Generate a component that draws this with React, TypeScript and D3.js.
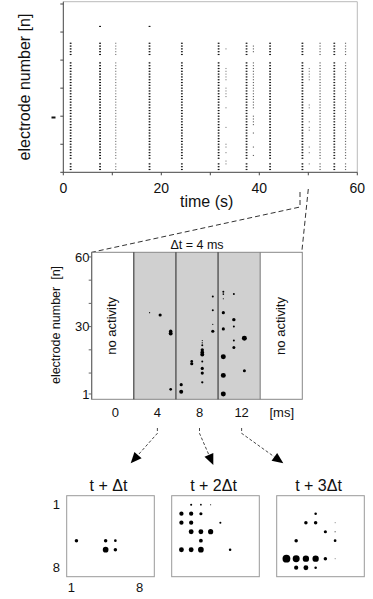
import React from 'react';
import * as d3 from 'd3';

const W = 373;
const H = 599;
const FONT = '"Liberation Sans", Arial, Helvetica, sans-serif';

// ---------- top raster (time in s, electrode number) ----------
const burstTimes = [1.5, 7.5, 10.7, 17.6, 24.2, 31.7, 33.2, 37.4, 38.8, 42.2, 48.8, 50.2, 52.4, 55.3, 57.6];
const burstElectrodes = [
  '1-3,5-39,42-46',
  '1-3,5-39,42-46,52',
  '1-3,5-39,42-46',
  '1-3,5-39,42-46,52',
  '1-3,5-39,42-46',
  '1-3,5-39,42-46',
  '3,4,7,9,10,16,23,27-30,33-37,44',
  '1-3,5-39,42-46',
  '6,9,14,17-20,23-39,43-45',
  '1-3,5-39,42-46',
  '1-3,5-39,42-46',
  '3,7,9,15,16,18,23,24,33-37',
  '1-3,5-39,42-46',
  '1-3,5-39,42-46',
  '1-3,5-39,42-46',
];
const burstStrength = [2, 2, 1, 2, 2, 2, 1, 2, 1, 2, 2, 1, 1, 2, 1];
const burstShade = [0.9, 0.9, 0.5, 0.9, 0.85, 0.9, 0.45, 0.85, 0.6, 0.85, 0.9, 0.45, 0.65, 0.8, 0.6];
const topXTicks = [0, 10, 20, 30, 40, 50, 60];
const topXLabels = [0, 20, 40, 60];
const topYTicks = [0, 10, 20, 30, 40, 50, 60];

// ---------- middle zoom (ms, electrode, activity) ----------
const binEdges = [2, 6, 10, 14];
const msLabels = ['0', '4', '8', '12'];
const msLabelValues = [0, 4, 8, 12];
const midYTicks = [1, 10, 20, 30, 40, 50, 60];
const midYLabels = [1, 30, 60];
const spikeMs = [
  3.5, 4.5, 5.5, 5.5, 5.5, 6.5, 6.5, 7.5, 7.5,
  8.5, 8.5, 8.5, 8.5, 8.5, 8.5, 8.5, 8.5, 8.5, 8.5,
  9.5, 9.5, 9.5, 9.5,
  10.5, 10.5, 10.5, 10.5, 10.5, 10.5, 10.5, 10.5,
  11.5, 11.5, 11.5, 11.5, 11.5,
  12.5, 12.5,
];
const spikeEl = [
  36, 35, 28, 27, 3, 5, 2, 15, 14,
  24, 23, 22, 20, 19, 18, 15, 12, 10, 6,
  43, 37, 31, 28,
  45, 44, 42, 36, 29, 17, 9, 1,
  44, 33, 30, 24, 21,
  25, 11,
];
const spikeSize = [
  0.4, 2.8, 3.2, 4.4, 2.0, 2.8, 4.4, 2.0, 2.8,
  0.4, 0.6, 1.1, 3.0, 3.6, 4.4, 1.1, 2.8, 2.8, 1.5,
  1.1, 1.1, 0.4, 2.8,
  1.1, 0.8, 0.4, 2.8, 2.8, 6.9, 6.9, 6.9,
  1.1, 3.2, 1.1, 1.1, 2.5,
  6.9, 2.5,
];

// ---------- bottom frames: [column, row, activity] ----------
const frameTitles = ['t + \u0394t', 't + 2\u0394t', 't + 3\u0394t'];
const frame1 = [[1, 5, 2], [4, 5, 2], [5, 5, 1.2], [4, 6, 5.3], [5, 6, 2]];
const frame2 = [
  [2, 1, 0.7], [3, 1, 0.5], [4, 1, 0.2],
  [1, 2, 3], [2, 2, 3], [3, 2, 1.6],
  [1, 3, 3], [2, 3, 3], [5, 3, 0.7],
  [2, 4, 3.9], [3, 4, 3.9], [4, 4, 4.5],
  [3, 5, 2.4],
  [1, 6, 3.9], [2, 6, 3.9], [3, 6, 5.3], [6, 6, 1.05],
];
const frame3 = [
  [4, 2, 1.05],
  [3, 3, 2], [4, 3, 2], [6, 3, 0.12],
  [5, 4, 1.6], [6, 4, 0.18],
  [2, 5, 2], [6, 5, 1.2],
  [1, 7, 10], [2, 7, 8], [3, 7, 6.6], [4, 7, 6.6], [5, 7, 2], [6, 7, 0.12],
  [2, 8, 2.9], [3, 8, 3.9], [4, 8, 1.05],
];
const frameAxisLabels = [1, 8];

function parseRanges(s: string): number[] {
  const out: number[] = [];
  s.split(',').forEach((part) => {
    const [a, b] = part.split('-').map(Number);
    if (b === undefined || isNaN(b)) out.push(a);
    else for (let i = a; i <= b; i++) out.push(i);
  });
  return out;
}

function Arrow({ x, tx, ty }: { x: number; tx: number; ty: number }) {
  const sx = x, sy = 433.3;
  const dx = tx - sx, dy = ty - sy;
  const len = Math.sqrt(dx * dx + dy * dy);
  const ux = dx / len, uy = dy / len;
  const L = 11, Wd = 4.8;
  const bx = tx - ux * L, by = ty - uy * L;
  const px = -uy, py = ux;
  return (
    <g>
      <path d={`M${sx},428 L${sx},${sy} L${bx},${by}`} fill="none" stroke="#333" strokeWidth={0.9} strokeDasharray="3,2" />
      <polygon points={`${tx},${ty} ${bx + px * Wd},${by + py * Wd} ${bx - px * Wd},${by - py * Wd}`} fill="#000" />
    </g>
  );
}

export default function App() {
  const xTop = d3.scaleLinear().domain([0, 60]).range([63.3, 357.3]);
  const yTop = d3.scaleLinear().domain([0, 60]).range([172.3, 4]);
  const topL = 63.3, topR = 357.3, topT = 1.7, topB = 172.3;

  const rasterDots: JSX.Element[] = [];
  burstTimes.forEach((t, bi) => {
    const els = parseRanges(burstElectrodes[bi]);
    const n = burstStrength[bi];
    for (let k = 0; k < n; k++) {
      const off = (k - (n - 1) / 2) * 0.14;
      els.forEach((e) => {
        rasterDots.push(
          <rect key={`${bi}-${k}-${e}`} x={xTop(t + off) - 0.6} y={yTop(e) - 0.55} width={1.2} height={1.1} fill="#000" opacity={burstShade[bi]} />
        );
      });
    }
  });

  const msX = d3.scaleLinear().domain([-2, 18]).range([91.7, 302.3]);
  const elY = d3.scaleLinear().domain([-1.3, 62]).range([399.3, 252.3]);
  const midR = d3.scaleSqrt().domain([0, 10]).range([0, 3.0]);
  const midL = msX(-2), midRgt = msX(18), midT = elY(62), midB = elY(-1.3);

  const frameX0 = [66.7, 171.7, 276.7];
  const frameW = 87.6, frameTop = 495.7, frameH = 81;
  const frameR = d3.scaleSqrt().domain([0, 10]).range([0, 3.9]);
  const frames = [frame1, frame2, frame3];
  const arrowTips = [[130.7, 463.3], [213.3, 465], [283.3, 463.3]];

  return (
    <svg width={W} height={H} style={{ position: 'absolute', left: 0, top: 0, background: '#fff' }} fontFamily={FONT}>
      <rect x={0} y={0} width={W} height={H} fill="#fff" />
      {/* ---------- top raster ---------- */}
      <line x1={topL} y1={topT} x2={topR} y2={topT} stroke="#bbb" strokeWidth={1} />
      <line x1={topR} y1={topT} x2={topR} y2={topB} stroke="#bbb" strokeWidth={1} />
      <line x1={topL} y1={topT} x2={topL} y2={topB} stroke="#444" strokeWidth={1} />
      <line x1={topL} y1={topB} x2={topR} y2={topB} stroke="#444" strokeWidth={1} />
      {topYTicks.map((v) => (
        <line key={`yt${v}`} x1={topL - 3} x2={topL} y1={yTop(v)} y2={yTop(v)} stroke="#444" strokeWidth={1} />
      ))}
      {topXTicks.map((v) => (
        <line key={`xt${v}`} x1={xTop(v)} x2={xTop(v)} y1={topB} y2={topB + 3} stroke="#444" strokeWidth={1} />
      ))}
      {topXLabels.map((v) => (
        <text key={`xl${v}`} x={xTop(v)} y={192.5} fontSize={14} textAnchor="middle" fill="#111">{v}</text>
      ))}
      <line x1={51.5} x2={55.5} y1={117.5} y2={117.5} stroke="#111" strokeWidth={2} />
      <text x={206.7} y={207} fontSize={16} textAnchor="middle" fill="#111">time (s)</text>
      <text transform={`translate(30,87) rotate(-90)`} fontSize={16} textAnchor="middle" fill="#111">electrode number [n]</text>
      <g>{rasterDots}</g>

      {/* zoom lines */}
      <path d="M300,192 L300,207 L91.7,252.3" fill="none" stroke="#333" strokeWidth={1} strokeDasharray="5,3" />
      <path d="M308.3,189 L301.7,253" fill="none" stroke="#333" strokeWidth={1} strokeDasharray="5,3" />

      {/* ---------- middle panel ---------- */}
      <rect x={msX(binEdges[0])} y={midT} width={msX(binEdges[3]) - msX(binEdges[0])} height={midB - midT} fill="#d0d0d0" />
      <rect x={midL} y={midT} width={midRgt - midL} height={midB - midT} fill="none" stroke="#888" strokeWidth={1} />
      {binEdges.map((v, i) => (
        <line key={`be${v}`} x1={msX(v)} x2={msX(v)} y1={midT} y2={midB} stroke={i < 3 ? '#222' : '#777'} strokeWidth={1} />
      ))}
      <line x1={midL} x2={midL} y1={midT} y2={midB} stroke="#666" strokeWidth={1} />
      {midYTicks.map((v) => (
        <line key={`myt${v}`} x1={midL - 3} x2={midL} y1={elY(v)} y2={elY(v)} stroke="#666" strokeWidth={1} />
      ))}
      {midYLabels.map((v) => (
        <text key={`myl${v}`} x={89.5} y={elY(v) + 4.6} fontSize={13} textAnchor="end" fill="#111">{v}</text>
      ))}
      {msLabelValues.map((v, i) => (
        <text key={`msl${v}`} x={msX(v) + 2.5} y={416.5} fontSize={13} textAnchor="middle" fill="#111">{msLabels[i]}</text>
      ))}
      <text x={msX(16) + 0.5} y={416.5} fontSize={13} textAnchor="middle" fill="#111">[ms]</text>
      <text x={(msX(binEdges[0]) + msX(binEdges[3])) / 2} y={249} fontSize={12.5} textAnchor="middle" fill="#111">{'\u0394t = 4 ms'}</text>
      <text transform={`translate(115.8,325.8) rotate(-90)`} fontSize={13} textAnchor="middle" fill="#111">no activity</text>
      <text transform={`translate(284.8,326) rotate(-90)`} fontSize={13} textAnchor="middle" fill="#111">no activity</text>
      <text transform={`translate(59.5,325) rotate(-90)`} fontSize={12.5} textAnchor="middle" fill="#111" style={{ whiteSpace: 'pre' }}>{'electrode number  [n]'}</text>
      {spikeMs.map((m, i) => (
        <circle key={`sp${i}`} cx={msX(m)} cy={elY(spikeEl[i])} r={midR(spikeSize[i])} fill="#000" />
      ))}

      {/* arrows */}
      {msLabelValues.slice(1).map((v, i) => (
        <Arrow key={`ar${v}`} x={msX(v) + 2.5} tx={arrowTips[i][0]} ty={arrowTips[i][1]} />
      ))}

      {/* ---------- bottom frames ---------- */}
      {frames.map((fr, fi) => {
        const x0 = frameX0[fi];
        const cx = d3.scaleLinear().domain([0, 9]).range([x0, x0 + frameW]);
        const ry = d3.scaleLinear().domain([0, 9]).range([frameTop, frameTop + frameH]);
        return (
          <g key={`fr${fi}`}>
            <rect x={x0} y={frameTop} width={frameW} height={frameH} fill="#fff" stroke="#999" strokeWidth={1} />
            <text x={x0 + frameW / 2 - 2} y={491} fontSize={16} textAnchor="middle" fill="#111">{frameTitles[fi]}</text>
            {fr.map((d, j) => (
              <circle key={j} cx={cx(d[0])} cy={ry(d[1])} r={frameR(d[2])} fill="#000" />
            ))}
            {fi === 0 && frameAxisLabels.map((v) => (
              <g key={`fal${v}`}>
                <text x={60} y={ry(v) + 4.5} fontSize={13} textAnchor="end" fill="#111">{v}</text>
                <text x={cx(v) - 5} y={591.7} fontSize={13} textAnchor="middle" fill="#111">{v}</text>
              </g>
            ))}
          </g>
        );
      })}
    </svg>
  );
}
